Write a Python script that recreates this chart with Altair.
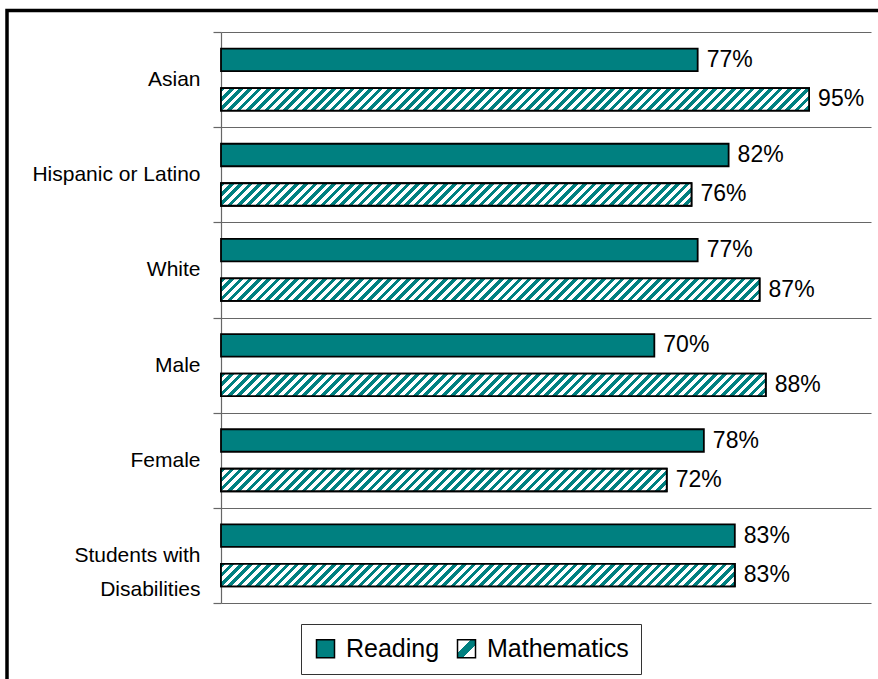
import json
import altair as alt
import pandas as pd

categories = ["Asian", "Hispanic or Latino", "White", "Male", "Female", "Students with Disabilities"]
series = ["Reading", "Mathematics"]
reading = [77, 82, 77, 70, 78, 83]
mathematics = [95, 76, 87, 88, 72, 83]

rows = []
for c, r, m in zip(categories, reading, mathematics):
    rows.append({"category": c, "series": "Reading", "value": r})
    rows.append({"category": c, "series": "Mathematics", "value": m})
df = pd.DataFrame(rows)

TEAL = "#008080"
W_PLOT, H_PLOT = 650, 571
XMAX = 105
PAD_IN, PAD_OUT = 0.43, 0.42
FONT = "Liberation Sans, Arial"

band = H_PLOT / len(categories)
step = band / (2 - PAD_IN + 2 * PAD_OUT)
bar_h = step * (1 - PAD_IN)


def stripe_gradient(w, h, period=9.3, frac=0.5):
    # "/" stripes at 45 degrees in pixel space, gradient in bounding-box units
    a = (w + h) * w / (w * w + h * h)
    p = period / (w + h)
    stops = []
    t = 0.0
    while t < 1.0:
        m = min(t + frac * p, 1.0)
        b = min(t + p, 1.0)
        stops += [{"offset": round(t, 5), "color": TEAL}, {"offset": round(m, 5), "color": TEAL},
                  {"offset": round(m, 5), "color": "#ffffff"}, {"offset": round(b, 5), "color": "#ffffff"}]
        t += p
    return {"gradient": "linear", "x1": 0, "y1": 0, "x2": a, "y2": a * h / w, "stops": stops}


legend_grad = {"gradient": "linear", "x1": 0, "y1": 0, "x2": 1, "y2": 1,
               "stops": [{"offset": 0, "color": "#ffffff"}, {"offset": 0.36, "color": "#ffffff"},
                         {"offset": 0.36, "color": TEAL}, {"offset": 0.64, "color": TEAL},
                         {"offset": 0.64, "color": "#ffffff"}, {"offset": 1, "color": "#ffffff"}]}

y_enc = alt.Y("category:N", sort=categories,
              scale=alt.Scale(domain=categories, paddingInner=0, paddingOuter=0),
              axis=alt.Axis(title=None, labelFont=FONT, labelFontSize=21, labelColor="black",
                            labelFontWeight="normal", tickBand="extent", grid=True, gridColor="#666",
                            gridWidth=1.2, tickColor="#666", tickWidth=1.2, domainColor="#666",
                            domainWidth=1.2, tickSize=8, labelPadding=13, labelLimit=0,
                            labelLineHeight=34,
                            labelExpr="datum.label == 'Students with Disabilities' ? ['Students with', 'Disabilities'] : datum.label"))
yoff_enc = alt.YOffset("series:N", sort=series,
                       scale=alt.Scale(domain=series, paddingInner=PAD_IN, paddingOuter=PAD_OUT))
x_enc = alt.X("value:Q", scale=alt.Scale(domain=[0, XMAX], nice=False, zero=True), axis=None)

base = alt.Chart(df)

bars = base.mark_bar(stroke="black", strokeWidth=1.8).encode(
    x=x_enc, y=y_enc, yOffset=yoff_enc,
    fill=alt.Fill("series:N", sort=series,
                  scale=alt.Scale(domain=series,
                                  range=[TEAL, alt.ExprRef(expr=json.dumps(legend_grad))]),
                  legend=alt.Legend(
                      title=None, orient="none", legendX=80, legendY=592, direction="horizontal",
                      strokeColor="#333", padding=12, symbolType="square", symbolSize=324,
                      symbolStrokeColor="black", symbolStrokeWidth=1.5, labelFont=FONT,
                      labelFontSize=25, labelColor="black", columnPadding=14, labelOffset=8,
                      labelLimit=0, cornerRadius=0, symbolOpacity=1)),
)

layers = [bars]
for c, m in zip(categories, mathematics):
    w = m * W_PLOT / XMAX
    layers.append(
        base.transform_filter(
            (alt.datum.category == c) & (alt.datum.series == "Mathematics")
        ).mark_bar(stroke="black", strokeWidth=1.8, fill=stripe_gradient(w, bar_h)).encode(
            x=x_enc, y=y_enc, yOffset=yoff_enc)
    )

labels = base.transform_calculate(lbl="datum.value + '%'").mark_text(
    align="left", baseline="middle", dx=9, font=FONT, fontSize=23, color="black").encode(
    x=x_enc, y=y_enc, yOffset=yoff_enc, text="lbl:N")
layers.append(labels)

frame = alt.Chart(alt.Data(values=[{}])).mark_rect(
    fill=None, stroke="black", strokeWidth=3.5).encode(
    x=alt.value(-214), x2=alt.value(720), y=alt.value(-21.5), y2=alt.value(700))
layers.append(frame)

chart = alt.layer(*layers).properties(
    width=W_PLOT, height=H_PLOT,
    autosize=alt.AutoSizeParams(type="none"),
    padding={"left": 221, "top": 32, "right": 7, "bottom": 76},
    background="white",
).configure_view(stroke=None)

chart.save("out.html", embed_options={"renderer": "svg", "actions": False})
